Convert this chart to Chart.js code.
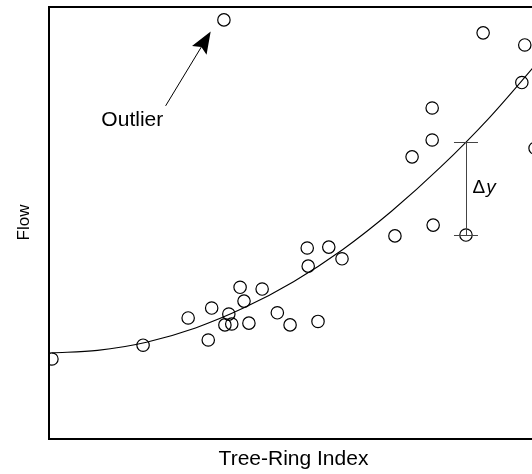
<!DOCTYPE html>
<html>
<head>
<meta charset="utf-8">
<script src="https://cdn.jsdelivr.net/npm/chart.js@4/dist/chart.umd.min.js"></script>
<style>
  html, body { margin: 0; padding: 0; background: #fff; overflow: hidden; }
  #wrap { position: absolute; left: 0; top: 0; width: 546px; height: 474px; }
</style>
</head>
<body>
<div id="wrap"><canvas id="chart"></canvas></div>
<script>
// Observations: tree-ring index vs. flow
const ringIndex = [0.7, 19.3, 28.5, 32.6, 33.3, 36.0, 36.8, 37.4, 39.1, 39.9, 40.9, 43.6, 46.7, 49.3, 55.0,
                   53.0, 52.8, 57.2, 59.9, 70.7, 78.5, 85.2, 74.2, 78.3, 78.3, 88.7, 97.2, 96.6, 99.3, 35.8];
const flow      = [18.4, 21.6, 27.9, 22.8, 30.2, 26.3, 28.8, 26.5, 35.0, 31.8, 26.7, 34.6, 29.1, 26.3, 27.1,
                   39.9, 44.1, 44.3, 41.6, 46.9, 49.4, 47.1, 65.2, 69.1, 76.5, 93.9, 91.1, 82.4, 67.2, 96.9];

// Fitted regression curve
const fitIndex = [0.7, 10, 20, 30, 40, 50, 60, 70, 80, 90, 100];
const fitFlow  = [19.8, 20.4, 22.3, 25.6, 30.3, 36.3, 43.7, 52.6, 62.8, 74.3, 87.3];

// Highlighted observations
const outlierIndex = 29;
const residualIndex = 21;

const FONT = '"Liberation Sans", Arial, Helvetica, sans-serif';

const observations = ringIndex.map((v, i) => ({ x: v, y: flow[i] }));
const fitted = fitIndex.map((v, i) => ({ x: v, y: fitFlow[i] }));

// Callouts placed in data units
const callouts = {
  arrowTail: { x: 23.9, y: 77.0 },
  arrowTip:  { x: 33.1, y: 94.2 },
  labelAt:   { x: 17.1, y: 72.3 },
  capHalf: 12
};

const annotate = {
  id: 'annotate',
  afterDatasetsDraw(chart) {
    const { ctx, scales: { x, y } } = chart;
    ctx.save();

    // "Outlier" label with arrow
    const tx = x.getPixelForValue(callouts.arrowTail.x), ty = y.getPixelForValue(callouts.arrowTail.y);
    const hx = x.getPixelForValue(callouts.arrowTip.x),  hy = y.getPixelForValue(callouts.arrowTip.y);
    const dx = hx - tx, dy = hy - ty, len = Math.hypot(dx, dy);
    const ux = dx / len, uy = dy / len, nx = -uy, ny = ux;
    const headLen = 22, headHalf = 8.5;
    const bx = hx - ux * headLen, by = hy - uy * headLen;
    ctx.strokeStyle = '#000';
    ctx.lineWidth = 1;
    ctx.beginPath();
    ctx.moveTo(tx, ty);
    ctx.lineTo(bx + ux * 4, by + uy * 4);
    ctx.stroke();
    ctx.fillStyle = '#000';
    ctx.beginPath();
    ctx.moveTo(hx, hy);
    ctx.lineTo(bx + nx * headHalf, by + ny * headHalf);
    ctx.lineTo(bx + ux * 4, by + uy * 4);
    ctx.lineTo(bx - nx * headHalf, by - ny * headHalf);
    ctx.closePath();
    ctx.fill();

    ctx.font = '21px ' + FONT;
    ctx.textAlign = 'center';
    ctx.textBaseline = 'alphabetic';
    ctx.fillText('Outlier', x.getPixelForValue(callouts.labelAt.x), y.getPixelForValue(callouts.labelAt.y));

    // Residual bracket between the observation and the fitted curve
    const px = x.getPixelForValue(ringIndex[residualIndex]);
    const yObs = y.getPixelForValue(flow[residualIndex]);
    const line = chart.getDatasetMeta(1).dataset;
    let yFit = null;
    if (line && line.interpolate) {
      const p = line.interpolate({ x: px }, 'x');
      if (p) yFit = p.y;
    }
    if (yFit === null) yFit = y.getPixelForValue(68.6);
    const c = callouts.capHalf;
    ctx.strokeStyle = '#444';
    ctx.lineWidth = 1;
    ctx.beginPath();
    ctx.moveTo(Math.round(px) + 0.5, yFit);
    ctx.lineTo(Math.round(px) + 0.5, yObs);
    ctx.moveTo(px - c, Math.round(yFit) + 0.5);
    ctx.lineTo(px + c, Math.round(yFit) + 0.5);
    ctx.moveTo(px - c, Math.round(yObs) + 0.5);
    ctx.lineTo(px + c, Math.round(yObs) + 0.5);
    ctx.stroke();

    const midY = (yFit + yObs) / 2;
    ctx.fillStyle = '#000';
    ctx.textAlign = 'left';
    ctx.font = '19px ' + FONT;
    const deltaX = px + 6.5;
    ctx.fillText('\u0394', deltaX, midY + 4);
    const w = ctx.measureText('\u0394').width;
    ctx.font = 'italic 19px ' + FONT;
    ctx.fillText('y', deltaX + w + 1, midY + 4);

    ctx.restore();
  }
};

const hiddenTicks = { display: false };
const noGrid = { display: false, drawTicks: false, tickLength: 0 };
const frame = { display: true, width: 2, color: '#000' };

new Chart(document.getElementById('chart'), {
  type: 'scatter',
  data: {
    datasets: [
      {
        label: 'Observed',
        data: observations,
        pointStyle: 'circle',
        pointRadius: 6.2,
        pointHoverRadius: 6.2,
        pointBorderWidth: 1.2,
        pointBorderColor: '#000',
        pointBackgroundColor: 'rgba(0,0,0,0)',
        showLine: false
      },
      {
        type: 'line',
        label: 'Fit',
        data: fitted,
        borderColor: '#000',
        borderWidth: 1.1,
        pointRadius: 0,
        fill: false,
        cubicInterpolationMode: 'monotone'
      }
    ]
  },
  plugins: [annotate],
  options: {
    responsive: true,
    maintainAspectRatio: false,
    devicePixelRatio: 1,
    animation: false,
    events: [],
    layout: { autoPadding: false, padding: { top: 6.5, right: 7.5, bottom: 2, left: 0 } },
    plugins: { legend: { display: false }, tooltip: { enabled: false } },
    scales: {
      x: {
        type: 'linear', position: 'bottom', min: 0, max: 100,
        ticks: hiddenTicks, grid: noGrid, border: frame,
        title: { display: true, text: 'Tree-Ring Index', color: '#000',
                 font: { family: FONT, size: 21 }, padding: { top: 8.3, bottom: 0 } }
      },
      xTop: {
        type: 'linear', axis: 'x', position: 'top', min: 0, max: 100,
        ticks: hiddenTicks, grid: noGrid, border: frame
      },
      y: {
        type: 'linear', position: 'left', min: 0, max: 100,
        ticks: hiddenTicks, grid: noGrid, border: frame,
        title: { display: true, text: 'Flow', color: '#000',
                 font: { family: FONT, size: 17 }, padding: { top: 13.8, bottom: 14.3 } }
      }
    }
  }
});
</script>
</body>
</html>
